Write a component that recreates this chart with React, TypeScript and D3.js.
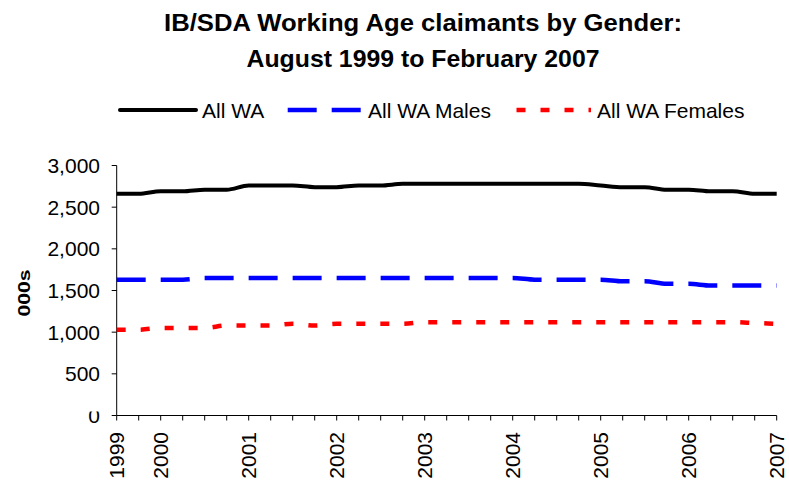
import React from "react";
import * as d3 from "d3";

const categories = [
  "Aug 1999", "Nov 1999", "Feb 2000", "May 2000", "Aug 2000", "Nov 2000",
  "Feb 2001", "May 2001", "Aug 2001", "Nov 2001", "Feb 2002", "May 2002",
  "Aug 2002", "Nov 2002", "Feb 2003", "May 2003", "Aug 2003", "Nov 2003",
  "Feb 2004", "May 2004", "Aug 2004", "Nov 2004", "Feb 2005", "May 2005",
  "Aug 2005", "Nov 2005", "Feb 2006", "May 2006", "Aug 2006", "Nov 2006",
  "Feb 2007",
];

const labelledCategories = [
  "Aug 1999", "Feb 2000", "Feb 2001", "Feb 2002", "Feb 2003",
  "Feb 2004", "Feb 2005", "Feb 2006", "Feb 2007",
];
const yearLabels = ["1999", "2000", "2001", "2002", "2003", "2004", "2005", "2006", "2007"];

const allWA = [
  2660, 2660, 2690, 2690, 2710, 2710, 2760, 2760, 2760, 2740, 2740, 2760,
  2760, 2780, 2780, 2780, 2780, 2780, 2780, 2780, 2780, 2780, 2760, 2740,
  2740, 2710, 2710, 2690, 2690, 2660, 2660,
];
const allWAMales = [
  1630, 1630, 1630, 1630, 1650, 1650, 1650, 1650, 1650, 1650, 1650, 1650,
  1650, 1650, 1650, 1650, 1650, 1650, 1650, 1630, 1630, 1630, 1630, 1610,
  1610, 1580, 1580, 1560, 1560, 1560, 1560,
];
const allWAFemales = [
  1030, 1030, 1050, 1050, 1050, 1080, 1080, 1080, 1100, 1080, 1100, 1100,
  1100, 1100, 1120, 1120, 1120, 1120, 1120, 1120, 1120, 1120, 1120, 1120,
  1120, 1120, 1120, 1120, 1120, 1110, 1100,
];

const yTicks = [0, 500, 1000, 1500, 2000, 2500, 3000];

const seriesNames = ["All WA", "All WA Males", "All WA Females"];
const titleLines = ["IB/SDA Working Age claimants by Gender:", "August 1999 to February 2007"];

const FONT = "'Liberation Sans', Arial, Helvetica, sans-serif";

export default function App() {
  const W = 789;
  const H = 480;
  const x = d3
    .scalePoint<string>()
    .domain(categories)
    .range([116.7, 776.7]);
  const y = d3.scaleLinear().domain([0, 3000]).range([415.5, 165.5]);

  const styles = [
    { color: "#000000", dash: "none", width: 4 },
    { color: "#0000ff", dash: "29,15", width: 4.5 },
    { color: "#ff0000", dash: "9,15", width: 4.5 },
  ];
  const seriesData = [allWA, allWAMales, allWAFemales];

  const line = d3
    .line<number>()
    .x((_, i) => x(categories[i]) as number)
    .y((d) => y(d))
    .curve(d3.curveMonotoneX);

  const legendItems = [
    { x0: 120, x1: 196, tx: 202 },
    { x0: 287.7, x1: 361, tx: 368 },
    { x0: 516.5, x1: 591, tx: 597 },
  ];

  const titleLayout = [
    { y: 31, len: 518 },
    { y: 67, len: 353 },
  ];

  const x0 = x(categories[0]) as number;
  const xEnd = x(categories[categories.length - 1]) as number;

  return (
    <svg
      width={W}
      height={H}
      style={{ position: "absolute", left: 0, top: 0, background: "#fff" }}
      fontFamily={FONT}
    >
      <defs>
        <clipPath id="zeroClip">
          <rect x={0} y={411.5} width={110} height={20} />
        </clipPath>
      </defs>
      <rect x={0} y={0} width={W} height={H} fill="#fff" />
      {/* Title */}
      {titleLines.map((t, i) => (
        <text
          key={t}
          x={423}
          y={titleLayout[i].y}
          textAnchor="middle"
          fontSize={24.5}
          fontWeight="bold"
          textLength={titleLayout[i].len}
          lengthAdjust="spacingAndGlyphs"
          fill="#000"
        >
          {t}
        </text>
      ))}

      {/* Legend */}
      {legendItems.map((it, i) => (
        <g key={seriesNames[i]}>
          <line
            x1={it.x0}
            x2={it.x1}
            y1={110}
            y2={110}
            stroke={styles[i].color}
            strokeWidth={styles[i].width}
            strokeDasharray={styles[i].dash}
            strokeLinecap={i === 0 ? "round" : "butt"}
          />
          <text x={it.tx} y={117.5} fontSize={21} fill="#000">
            {seriesNames[i]}
          </text>
        </g>
      ))}

      {/* Y axis */}
      <line x1={x0} x2={x0} y1={y(3000)} y2={y(0)} stroke="#000" strokeWidth={1} />
      {yTicks.map((t) => (
        <g key={t}>
          <line x1={x0 - 5} x2={x0} y1={y(t)} y2={y(t)} stroke="#000" strokeWidth={1} />
          <text
            x={100}
            y={y(t)}
            dy="0.36em"
            textAnchor="end"
            fontSize={21}
            fill="#000"
            clipPath={t === 0 ? "url(#zeroClip)" : undefined}
          >
            {d3.format(",")(t)}
          </text>
        </g>
      ))}
      <text
        transform={`translate(24,293) rotate(-90)`}
        textAnchor="middle"
        dy="0.36em"
        fontSize={16}
        fontWeight="bold"
        textLength={47}
        lengthAdjust="spacingAndGlyphs"
        fill="#000"
      >
        000s
      </text>

      {/* X axis */}
      <line x1={x0} x2={xEnd} y1={y(0)} y2={y(0)} stroke="#000" strokeWidth={1} />
      {categories.map((c) => (
        <line
          key={c}
          x1={x(c) as number}
          x2={x(c) as number}
          y1={y(0)}
          y2={y(0) + 5}
          stroke="#000"
          strokeWidth={1}
        />
      ))}
      {labelledCategories.map((c, i) => (
        <text
          key={c}
          transform={`translate(${x(c) as number},${432}) rotate(-90)`}
          textAnchor="end"
          dy="0.36em"
          fontSize={21}
          fill="#000"
        >
          {yearLabels[i]}
        </text>
      ))}

      {/* Series */}
      {seriesData.map((s, i) => (
        <path
          key={seriesNames[i]}
          d={line(s) || ""}
          fill="none"
          stroke={styles[i].color}
          strokeWidth={styles[i].width}
          strokeDasharray={styles[i].dash}
          strokeLinejoin="round"
        />
      ))}
    </svg>
  );
}
